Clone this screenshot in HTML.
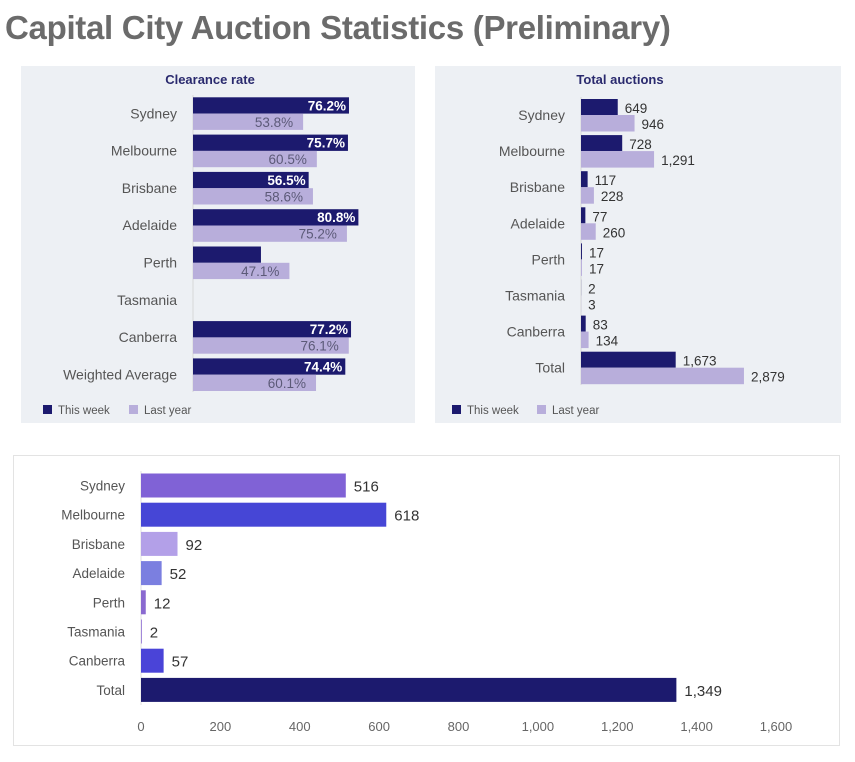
<!DOCTYPE html>
<html><head><meta charset="utf-8"><style>
body{margin:0;width:855px;height:762px;background:#fff;font-family:"Liberation Sans",sans-serif;overflow:hidden;position:relative}
#title{position:absolute;left:5px;top:9px;font-size:33px;font-weight:bold;color:#6b6b6b;letter-spacing:-0.3px}
svg{position:absolute;left:0;top:0}
</style></head><body>
<div id="title">Capital City Auction Statistics (Preliminary)</div>
<svg id="s" width="855" height="762"></svg>
<script>
const cities=["Sydney","Melbourne","Brisbane","Adelaide","Perth","Tasmania","Canberra","Weighted Average"];
const clrThis=[76.2,75.7,56.5,80.8,33.2,0,77.2,74.4];
const clrLast=[53.8,60.5,58.6,75.2,47.1,0,76.1,60.1];
const clrThisLbl=["76.2%","75.7%","56.5%","80.8%","","","77.2%","74.4%"];
const clrLastLbl=["53.8%","60.5%","58.6%","75.2%","47.1%","","76.1%","60.1%"];
const totCities=["Sydney","Melbourne","Brisbane","Adelaide","Perth","Tasmania","Canberra","Total"];
const totThis=[649,728,117,77,17,2,83,1673];
const totLast=[946,1291,228,260,17,3,134,2879];
const botCities=["Sydney","Melbourne","Brisbane","Adelaide","Perth","Tasmania","Canberra","Total"];
const botVals=[516,618,92,52,12,2,57,1349];
const botTicks=[0,200,400,600,800,1000,1200,1400,1600];
const botColors=["#8062d6","#4646d6","#b3a0e8","#7b7fe0","#8a6ad0","#8a6ad0","#4a44d8","#1c1a6e"];
const DARK="#1c1a6e",LIGHT="#b8aedb";
const s=document.getElementById('s');
function el(t,a,txt){const e=document.createElementNS("http://www.w3.org/2000/svg",t);for(const k in a)e.setAttribute(k,a[k]);if(txt!==undefined)e.textContent=txt;s.appendChild(e);return e;}
const fmt=v=>v.toLocaleString('en-US');
let p=el('rect',{x:21,y:66,width:394,height:357,fill:"#edf0f4"});


p=el('rect',{x:435,y:66,width:406,height:357,fill:"#edf0f4"});


p=el('rect',{x:13.5,y:455.5,width:826,height:290,fill:"#fff",stroke:"#e3e3e3"});


let t=el('text',{x:210,y:84,"text-anchor":"middle","font-size":13,"font-weight":"bold",fill:"#2a2a6e"},"Clearance rate");


t=el('text',{x:620,y:84,"text-anchor":"middle","font-size":13,"font-weight":"bold",fill:"#2a2a6e"},"Total auctions");


const cx=v=>193+v*2.047, cy=i=>97.3+i*37.3;
el('line',{x1:193,y1:95,x2:193,y2:392,stroke:"#d8d8d8"});
cities.forEach((c,i)=>{
 const y=cy(i);
 let l=el('text',{x:177,y:y+21,"text-anchor":"end","font-size":14,fill:"#555"},c);
 
 
 if(clrThis[i]>0){let r=el('rect',{x:193,y:y,width:cx(clrThis[i])-193,height:16.3,fill:DARK});
 
 }
 if(clrLast[i]>0){let r=el('rect',{x:193,y:y+16.3,width:cx(clrLast[i])-193,height:16.3,fill:LIGHT});
 
 }
 if(clrThisLbl[i]){let v=el('text',{x:cx(clrThis[i])-3,y:y+13,"text-anchor":"end","font-size":13.5,"font-weight":"bold",fill:"#fff"},clrThisLbl[i]);
 
 }
 if(clrLastLbl[i]){let v=el('text',{x:cx(clrLast[i])-10,y:y+29.5,"text-anchor":"end","font-size":13.5,fill:"#5c5a78"},clrLastLbl[i]);
 
 }
});
const ax=v=>581+v*0.0566, ay=i=>99+i*36.1;
el('line',{x1:581,y1:97,x2:581,y2:385,stroke:"#d8d8d8"});
totCities.forEach((c,i)=>{
 const y=ay(i);
 let l=el('text',{x:565,y:y+21,"text-anchor":"end","font-size":14,fill:"#555"},c);
 
 
 let r=el('rect',{x:581,y:y,width:ax(totThis[i])-581,height:16,fill:DARK});
 
 
 r=el('rect',{x:581,y:y+16,width:ax(totLast[i])-581,height:16.5,fill:LIGHT});
 
 
 let v=el('text',{x:ax(totThis[i])+7,y:y+14,"font-size":13.5,fill:"#333"},fmt(totThis[i]));
 
 
 v=el('text',{x:ax(totLast[i])+7,y:y+30,"font-size":13.5,fill:"#333"},fmt(totLast[i]));
 
 
});
[[43,"This week",DARK],[129,"Last year",LIGHT],[452,"This week",DARK],[537,"Last year",LIGHT]].forEach(a=>{
 let r=el('rect',{x:a[0],y:405,width:9,height:9,fill:a[2]});
 
 
 let t=el('text',{x:a[0]+15,y:414,"font-size":11.5,fill:"#555"},a[1]);
 
 
});
const bx=v=>141+v*(635/1600), by=i=>473.5+i*29.2;
el('line',{x1:141,y1:471,x2:141,y2:705,stroke:"#e0e0e0"});
botTicks.forEach(tk=>{let t=el('text',{x:bx(tk),y:731,"text-anchor":"middle","font-size":13,fill:"#666"},fmt(tk));
 
 });
botCities.forEach((c,i)=>{
 const y=by(i);
 let l=el('text',{x:125,y:y+17,"text-anchor":"end","font-size":13.5,fill:"#555"},c);
 
 
 let r=el('rect',{x:141,y:y,width:bx(botVals[i])-141,height:24,fill:botColors[i]});
 
 
 let v=el('text',{x:bx(botVals[i])+8,y:y+18,"font-size":15,fill:"#333"},fmt(botVals[i]));
 
 
});
</script>
</body></html>
